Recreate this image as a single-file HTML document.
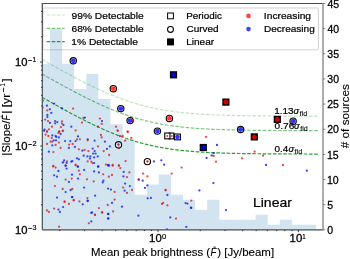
<!DOCTYPE html>
<html><head><meta charset="utf-8"><title>Slope vs mean peak brightness</title>
<style>html,body{margin:0;padding:0;background:#fff;}svg{display:block;will-change:transform;font-family:"Liberation Sans",sans-serif;}</style>
</head><body>
<svg width="350" height="259" viewBox="0 0 350 259"><rect x="0" y="0" width="350" height="259" fill="#fff"/>
<defs><clipPath id="ax"><rect x="42.3" y="3.5" width="280.7" height="226.35"/></clipPath></defs>
<g clip-path="url(#ax)">
<polyline points="28.67,51.67 30.12,52.51 31.57,53.35 33.03,54.19 34.48,55.03 35.93,55.87 37.38,56.70 38.83,57.54 40.28,58.37 41.73,59.20 43.19,60.03 44.64,60.86 46.09,61.68 47.54,62.51 48.99,63.33 50.44,64.15 51.90,64.96 53.35,65.78 54.80,66.59 56.25,67.40 57.70,68.21 59.15,69.01 60.60,69.81 62.06,70.61 63.51,71.41 64.96,72.20 66.41,72.99 67.86,73.77 69.31,74.55 70.76,75.33 72.22,76.11 73.67,76.88 75.12,77.64 76.57,78.40 78.02,79.16 79.47,79.91 80.93,80.66 82.38,81.40 83.83,82.14 85.28,82.87 86.73,83.59 88.18,84.31 89.63,85.03 91.09,85.73 92.54,86.44 93.99,87.13 95.44,87.82 96.89,88.50 98.34,89.18 99.80,89.84 101.25,90.50 102.70,91.15 104.15,91.80 105.60,92.43 107.05,93.06 108.50,93.68 109.96,94.29 111.41,94.90 112.86,95.49 114.31,96.07 115.76,96.65 117.21,97.22 118.66,97.77 120.12,98.32 121.57,98.86 123.02,99.39 124.47,99.90 125.92,100.41 127.37,100.91 128.83,101.40 130.28,101.87 131.73,102.34 133.18,102.80 134.63,103.24 136.08,103.68 137.53,104.11 138.99,104.52 140.44,104.93 141.89,105.32 143.34,105.71 144.79,106.08 146.24,106.45 147.70,106.80 149.15,107.15 150.60,107.48 152.05,107.81 153.50,108.12 154.95,108.43 156.40,108.72 157.86,109.01 159.31,109.29 160.76,109.56 162.21,109.82 163.66,110.07 165.11,110.31 166.56,110.55 168.02,110.78 169.47,111.00 170.92,111.21 172.37,111.41 173.82,111.61 175.27,111.80 176.73,111.98 178.18,112.16 179.63,112.33 181.08,112.49 182.53,112.65 183.98,112.80 185.43,112.94 186.89,113.08 188.34,113.22 189.79,113.34 191.24,113.47 192.69,113.59 194.14,113.70 195.60,113.81 197.05,113.91 198.50,114.01 199.95,114.11 201.40,114.20 202.85,114.29 204.30,114.37 205.76,114.45 207.21,114.53 208.66,114.61 210.11,114.68 211.56,114.75 213.01,114.81 214.46,114.87 215.92,114.93 217.37,114.99 218.82,115.04 220.27,115.10 221.72,115.15 223.17,115.19 224.63,115.24 226.08,115.28 227.53,115.32 228.98,115.36 230.43,115.40 231.88,115.44 233.33,115.47 234.79,115.51 236.24,115.54 237.69,115.57 239.14,115.60 240.59,115.62 242.04,115.65 243.49,115.68 244.95,115.70 246.40,115.72 247.85,115.75 249.30,115.77 250.75,115.79 252.20,115.81 253.66,115.82 255.11,115.84 256.56,115.86 258.01,115.87 259.46,115.89 260.91,115.90 262.36,115.92 263.82,115.93 265.27,115.94 266.72,115.95 268.17,115.97 269.62,115.98 271.07,115.99 272.53,116.00 273.98,116.01 275.43,116.01 276.88,116.02 278.33,116.03 279.78,116.04 281.23,116.05 282.69,116.05 284.14,116.06 285.59,116.07 287.04,116.07 288.49,116.08 289.94,116.08 291.39,116.09 292.85,116.10 294.30,116.10 295.75,116.10 297.20,116.11 298.65,116.11 300.10,116.12 301.56,116.12 303.01,116.12 304.46,116.13 305.91,116.13 307.36,116.13 308.81,116.14 310.26,116.14 311.72,116.14 313.17,116.15 314.62,116.15 316.07,116.15 317.52,116.15 318.97,116.16" fill="none" stroke="#c0e3c0" stroke-width="1.2" stroke-dasharray="3.6 1.55"/>
<polyline points="28.67,66.14 30.12,66.98 31.57,67.82 33.03,68.66 34.48,69.50 35.93,70.34 37.38,71.18 38.83,72.01 40.28,72.84 41.73,73.67 43.19,74.50 44.64,75.33 46.09,76.15 47.54,76.98 48.99,77.80 50.44,78.62 51.90,79.44 53.35,80.25 54.80,81.06 56.25,81.87 57.70,82.68 59.15,83.48 60.60,84.28 62.06,85.08 63.51,85.88 64.96,86.67 66.41,87.46 67.86,88.24 69.31,89.02 70.76,89.80 72.22,90.58 73.67,91.35 75.12,92.11 76.57,92.87 78.02,93.63 79.47,94.38 80.93,95.13 82.38,95.87 83.83,96.61 85.28,97.34 86.73,98.06 88.18,98.78 89.63,99.50 91.09,100.20 92.54,100.91 93.99,101.60 95.44,102.29 96.89,102.97 98.34,103.65 99.80,104.31 101.25,104.97 102.70,105.62 104.15,106.27 105.60,106.91 107.05,107.53 108.50,108.15 109.96,108.76 111.41,109.37 112.86,109.96 114.31,110.55 115.76,111.12 117.21,111.69 118.66,112.24 120.12,112.79 121.57,113.33 123.02,113.86 124.47,114.37 125.92,114.88 127.37,115.38 128.83,115.87 130.28,116.34 131.73,116.81 133.18,117.27 134.63,117.72 136.08,118.15 137.53,118.58 138.99,118.99 140.44,119.40 141.89,119.79 143.34,120.18 144.79,120.55 146.24,120.92 147.70,121.27 149.15,121.62 150.60,121.95 152.05,122.28 153.50,122.59 154.95,122.90 156.40,123.19 157.86,123.48 159.31,123.76 160.76,124.03 162.21,124.29 163.66,124.54 165.11,124.79 166.56,125.02 168.02,125.25 169.47,125.47 170.92,125.68 172.37,125.88 173.82,126.08 175.27,126.27 176.73,126.45 178.18,126.63 179.63,126.80 181.08,126.96 182.53,127.12 183.98,127.27 185.43,127.41 186.89,127.55 188.34,127.69 189.79,127.81 191.24,127.94 192.69,128.06 194.14,128.17 195.60,128.28 197.05,128.38 198.50,128.48 199.95,128.58 201.40,128.67 202.85,128.76 204.30,128.84 205.76,128.92 207.21,129.00 208.66,129.08 210.11,129.15 211.56,129.22 213.01,129.28 214.46,129.34 215.92,129.40 217.37,129.46 218.82,129.51 220.27,129.57 221.72,129.62 223.17,129.66 224.63,129.71 226.08,129.75 227.53,129.79 228.98,129.83 230.43,129.87 231.88,129.91 233.33,129.94 234.79,129.98 236.24,130.01 237.69,130.04 239.14,130.07 240.59,130.09 242.04,130.12 243.49,130.15 244.95,130.17 246.40,130.19 247.85,130.22 249.30,130.24 250.75,130.26 252.20,130.28 253.66,130.29 255.11,130.31 256.56,130.33 258.01,130.34 259.46,130.36 260.91,130.37 262.36,130.39 263.82,130.40 265.27,130.41 266.72,130.42 268.17,130.44 269.62,130.45 271.07,130.46 272.53,130.47 273.98,130.48 275.43,130.48 276.88,130.49 278.33,130.50 279.78,130.51 281.23,130.52 282.69,130.52 284.14,130.53 285.59,130.54 287.04,130.54 288.49,130.55 289.94,130.55 291.39,130.56 292.85,130.57 294.30,130.57 295.75,130.57 297.20,130.58 298.65,130.58 300.10,130.59 301.56,130.59 303.01,130.60 304.46,130.60 305.91,130.60 307.36,130.61 308.81,130.61 310.26,130.61 311.72,130.61 313.17,130.62 314.62,130.62 316.07,130.62 317.52,130.62 318.97,130.63" fill="none" stroke="#80c680" stroke-width="1.2" stroke-dasharray="3.6 1.55"/>
<polyline points="28.67,89.56 30.12,90.40 31.57,91.24 33.03,92.08 34.48,92.92 35.93,93.75 37.38,94.59 38.83,95.42 40.28,96.26 41.73,97.09 43.19,97.92 44.64,98.74 46.09,99.57 47.54,100.39 48.99,101.21 50.44,102.03 51.90,102.85 53.35,103.66 54.80,104.48 56.25,105.29 57.70,106.09 59.15,106.90 60.60,107.70 62.06,108.50 63.51,109.29 64.96,110.08 66.41,110.87 67.86,111.66 69.31,112.44 70.76,113.22 72.22,113.99 73.67,114.76 75.12,115.53 76.57,116.29 78.02,117.04 79.47,117.80 80.93,118.54 82.38,119.28 83.83,120.02 85.28,120.75 86.73,121.48 88.18,122.20 89.63,122.91 91.09,123.62 92.54,124.32 93.99,125.02 95.44,125.71 96.89,126.39 98.34,127.06 99.80,127.73 101.25,128.39 102.70,129.04 104.15,129.68 105.60,130.32 107.05,130.95 108.50,131.57 109.96,132.18 111.41,132.78 112.86,133.38 114.31,133.96 115.76,134.54 117.21,135.10 118.66,135.66 120.12,136.21 121.57,136.74 123.02,137.27 124.47,137.79 125.92,138.30 127.37,138.79 128.83,139.28 130.28,139.76 131.73,140.23 133.18,140.68 134.63,141.13 136.08,141.57 137.53,141.99 138.99,142.41 140.44,142.81 141.89,143.21 143.34,143.59 144.79,143.97 146.24,144.33 147.70,144.69 149.15,145.03 150.60,145.37 152.05,145.69 153.50,146.01 154.95,146.31 156.40,146.61 157.86,146.90 159.31,147.18 160.76,147.44 162.21,147.70 163.66,147.96 165.11,148.20 166.56,148.44 168.02,148.66 169.47,148.88 170.92,149.09 172.37,149.30 173.82,149.49 175.27,149.68 176.73,149.87 178.18,150.04 179.63,150.21 181.08,150.38 182.53,150.53 183.98,150.68 185.43,150.83 186.89,150.97 188.34,151.10 189.79,151.23 191.24,151.35 192.69,151.47 194.14,151.58 195.60,151.69 197.05,151.80 198.50,151.90 199.95,151.99 201.40,152.09 202.85,152.17 204.30,152.26 205.76,152.34 207.21,152.42 208.66,152.49 210.11,152.56 211.56,152.63 213.01,152.70 214.46,152.76 215.92,152.82 217.37,152.87 218.82,152.93 220.27,152.98 221.72,153.03 223.17,153.08 224.63,153.12 226.08,153.17 227.53,153.21 228.98,153.25 230.43,153.29 231.88,153.32 233.33,153.36 234.79,153.39 236.24,153.42 237.69,153.45 239.14,153.48 240.59,153.51 242.04,153.54 243.49,153.56 244.95,153.59 246.40,153.61 247.85,153.63 249.30,153.65 250.75,153.67 252.20,153.69 253.66,153.71 255.11,153.73 256.56,153.74 258.01,153.76 259.46,153.77 260.91,153.79 262.36,153.80 263.82,153.81 265.27,153.83 266.72,153.84 268.17,153.85 269.62,153.86 271.07,153.87 272.53,153.88 273.98,153.89 275.43,153.90 276.88,153.91 278.33,153.92 279.78,153.92 281.23,153.93 282.69,153.94 284.14,153.95 285.59,153.95 287.04,153.96 288.49,153.96 289.94,153.97 291.39,153.98 292.85,153.98 294.30,153.99 295.75,153.99 297.20,153.99 298.65,154.00 300.10,154.00 301.56,154.01 303.01,154.01 304.46,154.01 305.91,154.02 307.36,154.02 308.81,154.02 310.26,154.03 311.72,154.03 313.17,154.03 314.62,154.03 316.07,154.04 317.52,154.04 318.97,154.04" fill="none" stroke="#2ca02c" stroke-width="1.2" stroke-dasharray="3.6 1.55"/>
<circle cx="47.4" cy="117.1" r="1.15" fill="#0000ff" fill-opacity="0.74"/>
<circle cx="164.1" cy="164.7" r="1.15" fill="#0000ff" fill-opacity="0.74"/>
<circle cx="165.6" cy="190" r="1.15" fill="#ff0000" fill-opacity="0.74"/>
<circle cx="176" cy="218.6" r="1.15" fill="#ff0000" fill-opacity="0.74"/>
<circle cx="42.7" cy="107.6" r="1.15" fill="#ff0000" fill-opacity="0.74"/>
<circle cx="165.6" cy="190.3" r="1.15" fill="#ff0000" fill-opacity="0.74"/>
<circle cx="254.6" cy="151.7" r="1.15" fill="#ff0000" fill-opacity="0.74"/>
<circle cx="122.7" cy="136" r="1.15" fill="#ff0000" fill-opacity="0.74"/>
<circle cx="109.1" cy="155" r="1.15" fill="#ff0000" fill-opacity="0.74"/>
<circle cx="54.1" cy="208.6" r="1.15" fill="#ff0000" fill-opacity="0.74"/>
<circle cx="47" cy="144" r="1.15" fill="#ff0000" fill-opacity="0.74"/>
<circle cx="94.1" cy="163.1" r="1.15" fill="#0000ff" fill-opacity="0.74"/>
<circle cx="108" cy="188.6" r="1.15" fill="#0000ff" fill-opacity="0.74"/>
<circle cx="57" cy="176.7" r="1.15" fill="#0000ff" fill-opacity="0.74"/>
<circle cx="84.1" cy="187.6" r="1.15" fill="#0000ff" fill-opacity="0.74"/>
<circle cx="98" cy="166.7" r="1.15" fill="#0000ff" fill-opacity="0.74"/>
<circle cx="181.7" cy="167.6" r="1.15" fill="#ff0000" fill-opacity="0.74"/>
<circle cx="52" cy="126.7" r="1.15" fill="#ff0000" fill-opacity="0.74"/>
<circle cx="127.7" cy="132.1" r="1.15" fill="#ff0000" fill-opacity="0.74"/>
<circle cx="72.3" cy="161.1" r="1.15" fill="#0000ff" fill-opacity="0.74"/>
<circle cx="92.7" cy="148.6" r="1.15" fill="#0000ff" fill-opacity="0.74"/>
<circle cx="118.9" cy="147.9" r="1.15" fill="#ff0000" fill-opacity="0.74"/>
<circle cx="64.1" cy="160.3" r="1.15" fill="#0000ff" fill-opacity="0.74"/>
<circle cx="59.1" cy="226.7" r="1.15" fill="#ff0000" fill-opacity="0.74"/>
<circle cx="58.4" cy="209.6" r="1.15" fill="#0000ff" fill-opacity="0.74"/>
<circle cx="65.1" cy="141.1" r="1.15" fill="#0000ff" fill-opacity="0.74"/>
<circle cx="98" cy="126.7" r="1.15" fill="#ff0000" fill-opacity="0.74"/>
<circle cx="69.1" cy="144.6" r="1.15" fill="#ff0000" fill-opacity="0.74"/>
<circle cx="77.7" cy="166.4" r="1.15" fill="#0000ff" fill-opacity="0.74"/>
<circle cx="48.4" cy="136" r="1.15" fill="#ff0000" fill-opacity="0.74"/>
<circle cx="213.7" cy="156" r="1.15" fill="#ff0000" fill-opacity="0.74"/>
<circle cx="63.1" cy="130.7" r="1.15" fill="#ff0000" fill-opacity="0.74"/>
<circle cx="163.1" cy="202.9" r="1.15" fill="#ff0000" fill-opacity="0.74"/>
<circle cx="87.7" cy="200.7" r="1.15" fill="#0000ff" fill-opacity="0.74"/>
<circle cx="49.9" cy="122.9" r="1.15" fill="#0000ff" fill-opacity="0.74"/>
<circle cx="131.3" cy="137.9" r="1.15" fill="#ff0000" fill-opacity="0.74"/>
<circle cx="112.7" cy="165.7" r="1.15" fill="#ff0000" fill-opacity="0.74"/>
<circle cx="53.4" cy="152.1" r="1.15" fill="#ff0000" fill-opacity="0.74"/>
<circle cx="92.7" cy="163.1" r="1.15" fill="#ff0000" fill-opacity="0.74"/>
<circle cx="83.7" cy="155.7" r="1.15" fill="#0000ff" fill-opacity="0.74"/>
<circle cx="71.3" cy="161.7" r="1.15" fill="#0000ff" fill-opacity="0.74"/>
<circle cx="54.1" cy="103.6" r="1.15" fill="#0000ff" fill-opacity="0.74"/>
<circle cx="52.3" cy="141.7" r="1.15" fill="#ff0000" fill-opacity="0.74"/>
<circle cx="44.6" cy="129.6" r="1.15" fill="#0000ff" fill-opacity="0.74"/>
<circle cx="127" cy="192.9" r="1.15" fill="#ff0000" fill-opacity="0.74"/>
<circle cx="127.7" cy="131.4" r="1.15" fill="#ff0000" fill-opacity="0.74"/>
<circle cx="216" cy="161.7" r="1.15" fill="#ff0000" fill-opacity="0.74"/>
<circle cx="57.3" cy="122.1" r="1.15" fill="#0000ff" fill-opacity="0.74"/>
<circle cx="91.3" cy="161.7" r="1.15" fill="#ff0000" fill-opacity="0.74"/>
<circle cx="266" cy="165" r="1.15" fill="#0000ff" fill-opacity="0.74"/>
<circle cx="87.7" cy="140.3" r="1.15" fill="#ff0000" fill-opacity="0.74"/>
<circle cx="211.7" cy="155.4" r="1.15" fill="#0000ff" fill-opacity="0.74"/>
<circle cx="55.1" cy="123.3" r="1.15" fill="#0000ff" fill-opacity="0.74"/>
<circle cx="74.9" cy="146.9" r="1.15" fill="#0000ff" fill-opacity="0.74"/>
<circle cx="94.1" cy="157.4" r="1.15" fill="#0000ff" fill-opacity="0.74"/>
<circle cx="117.7" cy="130.7" r="1.15" fill="#ff0000" fill-opacity="0.74"/>
<circle cx="47" cy="131.4" r="1.15" fill="#ff0000" fill-opacity="0.74"/>
<circle cx="103.1" cy="174.3" r="1.15" fill="#ff0000" fill-opacity="0.74"/>
<circle cx="117.7" cy="130.7" r="1.15" fill="#ff0000" fill-opacity="0.74"/>
<circle cx="95.6" cy="153.6" r="1.15" fill="#0000ff" fill-opacity="0.74"/>
<circle cx="59" cy="131.4" r="1.15" fill="#ff0000" fill-opacity="0.74"/>
<circle cx="72.3" cy="189" r="1.15" fill="#ff0000" fill-opacity="0.74"/>
<circle cx="62" cy="108.3" r="1.15" fill="#0000ff" fill-opacity="0.74"/>
<circle cx="97.7" cy="156.4" r="1.15" fill="#0000ff" fill-opacity="0.74"/>
<circle cx="108" cy="218.4" r="1.15" fill="#0000ff" fill-opacity="0.74"/>
<circle cx="110.9" cy="189.6" r="1.15" fill="#0000ff" fill-opacity="0.74"/>
<circle cx="242" cy="158.3" r="1.15" fill="#ff0000" fill-opacity="0.74"/>
<circle cx="98.9" cy="208.1" r="1.15" fill="#ff0000" fill-opacity="0.74"/>
<circle cx="58.4" cy="171" r="1.15" fill="#0000ff" fill-opacity="0.74"/>
<circle cx="127" cy="177.1" r="1.15" fill="#ff0000" fill-opacity="0.74"/>
<circle cx="186.3" cy="226.9" r="1.15" fill="#0000ff" fill-opacity="0.74"/>
<circle cx="47" cy="131.7" r="1.15" fill="#ff0000" fill-opacity="0.74"/>
<circle cx="63.4" cy="162.1" r="1.15" fill="#ff0000" fill-opacity="0.74"/>
<circle cx="129.9" cy="186.1" r="1.15" fill="#0000ff" fill-opacity="0.74"/>
<circle cx="213.4" cy="183.1" r="1.15" fill="#0000ff" fill-opacity="0.74"/>
<circle cx="66.6" cy="168.6" r="1.15" fill="#0000ff" fill-opacity="0.74"/>
<circle cx="125.1" cy="140.7" r="1.15" fill="#ff0000" fill-opacity="0.74"/>
<circle cx="58.4" cy="132.9" r="1.15" fill="#ff0000" fill-opacity="0.74"/>
<circle cx="75.6" cy="164.6" r="1.15" fill="#ff0000" fill-opacity="0.74"/>
<circle cx="138.9" cy="179.7" r="1.15" fill="#0000ff" fill-opacity="0.74"/>
<circle cx="57" cy="197.6" r="1.15" fill="#0000ff" fill-opacity="0.74"/>
<circle cx="150.9" cy="197.9" r="1.15" fill="#0000ff" fill-opacity="0.74"/>
<circle cx="125.1" cy="183.6" r="1.15" fill="#0000ff" fill-opacity="0.74"/>
<circle cx="103.7" cy="151.1" r="1.15" fill="#ff0000" fill-opacity="0.74"/>
<circle cx="95" cy="215" r="1.15" fill="#ff0000" fill-opacity="0.74"/>
<circle cx="78" cy="166.7" r="1.15" fill="#0000ff" fill-opacity="0.74"/>
<circle cx="87.7" cy="139.3" r="1.15" fill="#0000ff" fill-opacity="0.74"/>
<circle cx="47" cy="105.7" r="1.15" fill="#0000ff" fill-opacity="0.74"/>
<circle cx="67" cy="161.4" r="1.15" fill="#ff0000" fill-opacity="0.74"/>
<circle cx="109.1" cy="165.4" r="1.15" fill="#0000ff" fill-opacity="0.74"/>
<circle cx="84.6" cy="150" r="1.15" fill="#ff0000" fill-opacity="0.74"/>
<circle cx="112" cy="175" r="1.15" fill="#ff0000" fill-opacity="0.74"/>
<circle cx="102.3" cy="212.4" r="1.15" fill="#ff0000" fill-opacity="0.74"/>
<circle cx="109.9" cy="146.4" r="1.15" fill="#0000ff" fill-opacity="0.74"/>
<circle cx="48.9" cy="151.7" r="1.15" fill="#0000ff" fill-opacity="0.74"/>
<circle cx="147.7" cy="198.3" r="1.15" fill="#0000ff" fill-opacity="0.74"/>
<circle cx="75.6" cy="141.1" r="1.15" fill="#0000ff" fill-opacity="0.74"/>
<circle cx="78.9" cy="170.7" r="1.15" fill="#ff0000" fill-opacity="0.74"/>
<circle cx="87.7" cy="161.4" r="1.15" fill="#ff0000" fill-opacity="0.74"/>
<circle cx="45.1" cy="119.6" r="1.15" fill="#ff0000" fill-opacity="0.74"/>
<circle cx="91.3" cy="212.9" r="1.15" fill="#0000ff" fill-opacity="0.74"/>
<circle cx="103.4" cy="180.7" r="1.15" fill="#0000ff" fill-opacity="0.74"/>
<circle cx="100.9" cy="135" r="1.15" fill="#ff0000" fill-opacity="0.74"/>
<circle cx="114.6" cy="191.9" r="1.15" fill="#ff0000" fill-opacity="0.74"/>
<circle cx="89.9" cy="158.6" r="1.15" fill="#0000ff" fill-opacity="0.74"/>
<circle cx="88.4" cy="151.1" r="1.15" fill="#ff0000" fill-opacity="0.74"/>
<circle cx="171.7" cy="173.6" r="1.15" fill="#ff0000" fill-opacity="0.74"/>
<circle cx="54.1" cy="175.3" r="1.15" fill="#0000ff" fill-opacity="0.74"/>
<circle cx="72" cy="174.7" r="1.15" fill="#0000ff" fill-opacity="0.74"/>
<circle cx="306.9" cy="170.7" r="1.15" fill="#0000ff" fill-opacity="0.74"/>
<circle cx="113.1" cy="211.4" r="1.15" fill="#ff0000" fill-opacity="0.74"/>
<circle cx="87.4" cy="156.4" r="1.15" fill="#0000ff" fill-opacity="0.74"/>
<circle cx="52.3" cy="145.4" r="1.15" fill="#0000ff" fill-opacity="0.74"/>
<circle cx="118.9" cy="165.7" r="1.15" fill="#ff0000" fill-opacity="0.74"/>
<circle cx="199.4" cy="190.4" r="1.15" fill="#0000ff" fill-opacity="0.74"/>
<circle cx="71.7" cy="178.6" r="1.15" fill="#ff0000" fill-opacity="0.74"/>
<circle cx="78" cy="178.6" r="1.15" fill="#0000ff" fill-opacity="0.74"/>
<circle cx="70.6" cy="190" r="1.15" fill="#0000ff" fill-opacity="0.74"/>
<circle cx="125.6" cy="161.1" r="1.15" fill="#ff0000" fill-opacity="0.74"/>
<circle cx="114.6" cy="199.6" r="1.15" fill="#ff0000" fill-opacity="0.74"/>
<circle cx="66.6" cy="163.1" r="1.15" fill="#0000ff" fill-opacity="0.74"/>
<circle cx="75.6" cy="130.4" r="1.15" fill="#ff0000" fill-opacity="0.74"/>
<circle cx="56.3" cy="136.9" r="1.15" fill="#0000ff" fill-opacity="0.74"/>
<circle cx="79.4" cy="201.4" r="1.15" fill="#ff0000" fill-opacity="0.74"/>
<circle cx="55.6" cy="167.6" r="1.15" fill="#ff0000" fill-opacity="0.74"/>
<circle cx="48.9" cy="211.9" r="1.15" fill="#ff0000" fill-opacity="0.74"/>
<circle cx="87" cy="179.3" r="1.15" fill="#ff0000" fill-opacity="0.74"/>
<circle cx="144.9" cy="187.9" r="1.15" fill="#0000ff" fill-opacity="0.74"/>
<circle cx="94.9" cy="214.7" r="1.15" fill="#ff0000" fill-opacity="0.74"/>
<circle cx="283" cy="165" r="1.15" fill="#ff0000" fill-opacity="0.74"/>
<circle cx="53.7" cy="140.3" r="1.15" fill="#0000ff" fill-opacity="0.74"/>
<circle cx="60.6" cy="147.9" r="1.15" fill="#ff0000" fill-opacity="0.74"/>
<circle cx="120.3" cy="168.1" r="1.15" fill="#ff0000" fill-opacity="0.74"/>
<circle cx="65.6" cy="179.6" r="1.15" fill="#ff0000" fill-opacity="0.74"/>
<circle cx="108" cy="165" r="1.15" fill="#0000ff" fill-opacity="0.74"/>
<circle cx="82.7" cy="204.3" r="1.15" fill="#0000ff" fill-opacity="0.74"/>
<circle cx="77" cy="139.3" r="1.15" fill="#ff0000" fill-opacity="0.74"/>
<circle cx="112.7" cy="165" r="1.15" fill="#ff0000" fill-opacity="0.74"/>
<circle cx="147.4" cy="161.4" r="1.15" fill="#ff0000" fill-opacity="0.74"/>
<circle cx="153.9" cy="161.4" r="1.15" fill="#0000ff" fill-opacity="0.74"/>
<circle cx="53.4" cy="166" r="1.15" fill="#ff0000" fill-opacity="0.74"/>
<circle cx="73.1" cy="108.6" r="1.15" fill="#ff0000" fill-opacity="0.74"/>
<circle cx="51.3" cy="112.9" r="1.15" fill="#0000ff" fill-opacity="0.74"/>
<circle cx="50.6" cy="141.7" r="1.15" fill="#ff0000" fill-opacity="0.74"/>
<circle cx="116" cy="126.7" r="1.15" fill="#ff0000" fill-opacity="0.74"/>
<circle cx="47.3" cy="110.4" r="1.15" fill="#ff0000" fill-opacity="0.74"/>
<circle cx="79.9" cy="174.3" r="1.15" fill="#ff0000" fill-opacity="0.74"/>
<circle cx="65.6" cy="192.1" r="1.15" fill="#0000ff" fill-opacity="0.74"/>
<circle cx="118.4" cy="144.6" r="1.15" fill="#ff0000" fill-opacity="0.74"/>
<circle cx="167.4" cy="195" r="1.15" fill="#0000ff" fill-opacity="0.74"/>
<circle cx="213.7" cy="153.1" r="1.15" fill="#0000ff" fill-opacity="0.74"/>
<circle cx="55.1" cy="121.1" r="1.15" fill="#0000ff" fill-opacity="0.74"/>
<circle cx="62.7" cy="189" r="1.15" fill="#ff0000" fill-opacity="0.74"/>
<circle cx="44.1" cy="130.7" r="1.15" fill="#0000ff" fill-opacity="0.74"/>
<circle cx="108.9" cy="176.7" r="1.15" fill="#ff0000" fill-opacity="0.74"/>
<circle cx="56" cy="140.3" r="1.15" fill="#0000ff" fill-opacity="0.74"/>
<circle cx="58.9" cy="137.4" r="1.15" fill="#0000ff" fill-opacity="0.74"/>
<circle cx="48.9" cy="129.3" r="1.15" fill="#ff0000" fill-opacity="0.74"/>
<circle cx="55.6" cy="145" r="1.15" fill="#ff0000" fill-opacity="0.74"/>
<circle cx="73.7" cy="200.4" r="1.15" fill="#ff0000" fill-opacity="0.74"/>
<circle cx="95.1" cy="195.7" r="1.15" fill="#0000ff" fill-opacity="0.74"/>
<circle cx="53.1" cy="166.4" r="1.15" fill="#ff0000" fill-opacity="0.74"/>
<circle cx="62" cy="121.4" r="1.15" fill="#ff0000" fill-opacity="0.74"/>
<circle cx="185.6" cy="203.1" r="1.15" fill="#0000ff" fill-opacity="0.74"/>
<circle cx="64.6" cy="202.1" r="1.15" fill="#ff0000" fill-opacity="0.74"/>
<circle cx="101.7" cy="123.9" r="1.15" fill="#ff0000" fill-opacity="0.74"/>
<circle cx="87.4" cy="198.1" r="1.15" fill="#ff0000" fill-opacity="0.74"/>
<circle cx="133.1" cy="121" r="1.15" fill="#ff0000" fill-opacity="0.74"/>
<circle cx="90.3" cy="156.4" r="1.15" fill="#0000ff" fill-opacity="0.74"/>
<circle cx="190.9" cy="207.7" r="1.15" fill="#0000ff" fill-opacity="0.74"/>
<circle cx="191.3" cy="200.7" r="1.15" fill="#ff0000" fill-opacity="0.74"/>
<circle cx="91.3" cy="221.4" r="1.15" fill="#0000ff" fill-opacity="0.74"/>
<circle cx="58.9" cy="142.6" r="1.15" fill="#ff0000" fill-opacity="0.74"/>
<circle cx="147.4" cy="176.4" r="1.15" fill="#ff0000" fill-opacity="0.74"/>
<circle cx="124.6" cy="190.7" r="1.15" fill="#0000ff" fill-opacity="0.74"/>
<circle cx="94.6" cy="140.7" r="1.15" fill="#0000ff" fill-opacity="0.74"/>
<circle cx="187.4" cy="203.6" r="1.15" fill="#0000ff" fill-opacity="0.74"/>
<circle cx="101.7" cy="137.4" r="1.15" fill="#ff0000" fill-opacity="0.74"/>
<circle cx="82.3" cy="150.7" r="1.15" fill="#0000ff" fill-opacity="0.74"/>
<circle cx="51.7" cy="137.9" r="1.15" fill="#ff0000" fill-opacity="0.74"/>
<circle cx="63.4" cy="125" r="1.15" fill="#0000ff" fill-opacity="0.74"/>
<circle cx="94.1" cy="171.4" r="1.15" fill="#0000ff" fill-opacity="0.74"/>
<circle cx="47.4" cy="115" r="1.15" fill="#0000ff" fill-opacity="0.74"/>
<circle cx="54.9" cy="186.1" r="1.15" fill="#ff0000" fill-opacity="0.74"/>
<circle cx="98.9" cy="172.4" r="1.15" fill="#0000ff" fill-opacity="0.74"/>
<circle cx="78.9" cy="149.3" r="1.15" fill="#ff0000" fill-opacity="0.74"/>
<circle cx="65.6" cy="165.7" r="1.15" fill="#0000ff" fill-opacity="0.74"/>
<circle cx="122" cy="206.7" r="1.15" fill="#0000ff" fill-opacity="0.74"/>
<circle cx="60.6" cy="134" r="1.15" fill="#0000ff" fill-opacity="0.74"/>
<circle cx="143.1" cy="173.6" r="1.15" fill="#ff0000" fill-opacity="0.74"/>
<circle cx="72.3" cy="197.1" r="1.15" fill="#0000ff" fill-opacity="0.74"/>
<circle cx="62.7" cy="162.6" r="1.15" fill="#0000ff" fill-opacity="0.74"/>
<circle cx="73.7" cy="200" r="1.15" fill="#ff0000" fill-opacity="0.74"/>
<circle cx="191.3" cy="207.9" r="1.15" fill="#0000ff" fill-opacity="0.74"/>
<circle cx="161.3" cy="160.3" r="1.15" fill="#0000ff" fill-opacity="0.74"/>
<circle cx="138.4" cy="179.3" r="1.15" fill="#ff0000" fill-opacity="0.74"/>
<circle cx="102" cy="121.1" r="1.15" fill="#0000ff" fill-opacity="0.74"/>
<circle cx="49.9" cy="109.3" r="1.15" fill="#0000ff" fill-opacity="0.74"/>
<circle cx="64.6" cy="201.4" r="1.15" fill="#ff0000" fill-opacity="0.74"/>
<circle cx="71.3" cy="126.7" r="1.15" fill="#0000ff" fill-opacity="0.74"/>
<circle cx="206.6" cy="157.9" r="1.15" fill="#0000ff" fill-opacity="0.74"/>
<circle cx="263.1" cy="155.7" r="1.15" fill="#ff0000" fill-opacity="0.74"/>
<circle cx="68.9" cy="203.9" r="1.15" fill="#ff0000" fill-opacity="0.74"/>
<circle cx="63.1" cy="207.1" r="1.15" fill="#0000ff" fill-opacity="0.74"/>
<circle cx="70.3" cy="141.1" r="1.15" fill="#0000ff" fill-opacity="0.74"/>
<circle cx="87.7" cy="201" r="1.15" fill="#0000ff" fill-opacity="0.74"/>
<circle cx="88.9" cy="223.3" r="1.15" fill="#ff0000" fill-opacity="0.74"/>
<circle cx="78.9" cy="159.3" r="1.15" fill="#0000ff" fill-opacity="0.74"/>
<circle cx="92" cy="212.4" r="1.15" fill="#0000ff" fill-opacity="0.74"/>
<circle cx="119.9" cy="136" r="1.15" fill="#ff0000" fill-opacity="0.74"/>
<circle cx="206.1" cy="136.9" r="1.15" fill="#ff0000" fill-opacity="0.74"/>
<circle cx="72" cy="197.1" r="1.15" fill="#0000ff" fill-opacity="0.74"/>
<circle cx="83.4" cy="117.9" r="1.15" fill="#ff0000" fill-opacity="0.74"/>
<circle cx="45.6" cy="134.6" r="1.15" fill="#ff0000" fill-opacity="0.74"/>
<circle cx="129.4" cy="172.4" r="1.15" fill="#ff0000" fill-opacity="0.74"/>
<circle cx="62.7" cy="131.1" r="1.15" fill="#ff0000" fill-opacity="0.74"/>
<circle cx="107.7" cy="205" r="1.15" fill="#ff0000" fill-opacity="0.74"/>
<circle cx="84.9" cy="117.6" r="1.15" fill="#0000ff" fill-opacity="0.74"/>
<circle cx="84.1" cy="170" r="1.15" fill="#0000ff" fill-opacity="0.74"/>
<circle cx="93.1" cy="153.6" r="1.15" fill="#0000ff" fill-opacity="0.74"/>
<circle cx="217" cy="145" r="1.15" fill="#0000ff" fill-opacity="0.74"/>
<circle cx="47" cy="210.4" r="1.15" fill="#ff0000" fill-opacity="0.74"/>
<circle cx="65.6" cy="165.7" r="1.15" fill="#0000ff" fill-opacity="0.74"/>
<circle cx="104.9" cy="141.7" r="1.15" fill="#0000ff" fill-opacity="0.74"/>
<circle cx="138.4" cy="215.7" r="1.15" fill="#0000ff" fill-opacity="0.74"/>
<circle cx="102.7" cy="182.4" r="1.15" fill="#0000ff" fill-opacity="0.74"/>
<circle cx="94.6" cy="151.1" r="1.15" fill="#0000ff" fill-opacity="0.74"/>
<circle cx="55.6" cy="136" r="1.15" fill="#0000ff" fill-opacity="0.74"/>
<circle cx="167" cy="229.4" r="1.15" fill="#0000ff" fill-opacity="0.74"/>
<circle cx="118.9" cy="165.4" r="1.15" fill="#ff0000" fill-opacity="0.74"/>
<circle cx="123.7" cy="171.9" r="1.15" fill="#0000ff" fill-opacity="0.74"/>
<circle cx="68.9" cy="181.9" r="1.15" fill="#0000ff" fill-opacity="0.74"/>
<circle cx="60.9" cy="127.1" r="1.15" fill="#ff0000" fill-opacity="0.74"/>
<circle cx="147.4" cy="185.4" r="1.15" fill="#0000ff" fill-opacity="0.74"/>
<circle cx="75.6" cy="165.3" r="1.15" fill="#ff0000" fill-opacity="0.74"/>
<circle cx="82" cy="122.6" r="1.15" fill="#ff0000" fill-opacity="0.74"/>
<circle cx="52.3" cy="135.4" r="1.15" fill="#0000ff" fill-opacity="0.74"/>
<circle cx="98.4" cy="166.4" r="1.15" fill="#0000ff" fill-opacity="0.74"/>
<circle cx="79.9" cy="139.3" r="1.15" fill="#ff0000" fill-opacity="0.74"/>
<circle cx="99.9" cy="118.6" r="1.15" fill="#ff0000" fill-opacity="0.74"/>
<circle cx="142.7" cy="180.7" r="1.15" fill="#0000ff" fill-opacity="0.74"/>
<circle cx="77" cy="158.3" r="1.15" fill="#0000ff" fill-opacity="0.74"/>
<circle cx="48" cy="121.1" r="1.15" fill="#ff0000" fill-opacity="0.74"/>
<circle cx="108" cy="214" r="1.15" fill="#0000ff" fill-opacity="0.74"/>
<circle cx="123.1" cy="187.6" r="1.15" fill="#ff0000" fill-opacity="0.74"/>
<circle cx="42.7" cy="100.7" r="1.15" fill="#0000ff" fill-opacity="0.74"/>
<circle cx="59.9" cy="211.9" r="1.15" fill="#0000ff" fill-opacity="0.74"/>
<circle cx="123.4" cy="176.4" r="1.15" fill="#0000ff" fill-opacity="0.74"/>
<circle cx="170.3" cy="217.4" r="1.15" fill="#0000ff" fill-opacity="0.74"/>
<circle cx="78" cy="136.4" r="1.15" fill="#0000ff" fill-opacity="0.74"/>
<circle cx="98" cy="146.4" r="1.15" fill="#ff0000" fill-opacity="0.74"/>
<circle cx="72.7" cy="144" r="1.15" fill="#ff0000" fill-opacity="0.74"/>
<circle cx="108.4" cy="165.7" r="1.15" fill="#0000ff" fill-opacity="0.74"/>
<circle cx="68.9" cy="147.9" r="1.15" fill="#0000ff" fill-opacity="0.74"/>
<circle cx="132" cy="190" r="1.15" fill="#ff0000" fill-opacity="0.74"/>
<circle cx="108.4" cy="218.6" r="1.15" fill="#0000ff" fill-opacity="0.74"/>
<circle cx="226" cy="210.1" r="1.15" fill="#0000ff" fill-opacity="0.74"/>
<circle cx="93.7" cy="181.4" r="1.15" fill="#ff0000" fill-opacity="0.74"/>
<circle cx="162" cy="204" r="1.15" fill="#ff0000" fill-opacity="0.74"/>
<circle cx="102" cy="212.4" r="1.15" fill="#ff0000" fill-opacity="0.74"/>
<circle cx="112" cy="202.9" r="1.15" fill="#0000ff" fill-opacity="0.74"/>
<circle cx="62" cy="123.6" r="1.15" fill="#ff0000" fill-opacity="0.74"/>
<circle cx="59.4" cy="131.7" r="1.15" fill="#ff0000" fill-opacity="0.74"/>
<circle cx="108.4" cy="213.9" r="1.15" fill="#0000ff" fill-opacity="0.74"/>
<circle cx="107" cy="148.9" r="1.15" fill="#0000ff" fill-opacity="0.74"/>
<circle cx="106" cy="164.6" r="1.15" fill="#ff0000" fill-opacity="0.74"/>
<circle cx="167.4" cy="205.4" r="1.15" fill="#ff0000" fill-opacity="0.74"/>
<g font-family='"Liberation Sans", sans-serif'>
<text x="274.24" y="114.10" font-size="9.8" fill="#000" stroke="#000" stroke-width="0.22" textLength="19.40" lengthAdjust="spacingAndGlyphs">1.13</text>
<text x="293.49" y="114.10" font-size="9.5" font-style="italic" fill="#000" stroke="#000" stroke-width="0.22" textLength="5.62" lengthAdjust="spacingAndGlyphs">σ</text>
<text x="299.70" y="115.70" font-size="6.6" fill="#000" stroke="#000" stroke-width="0.08" textLength="7.56" lengthAdjust="spacingAndGlyphs">fid</text>
<text x="274.61" y="129.00" font-size="9.8" fill="#000" stroke="#000" stroke-width="0.22" textLength="19.64" lengthAdjust="spacingAndGlyphs">0.76</text>
<text x="294.09" y="129.00" font-size="9.5" font-style="italic" fill="#000" stroke="#000" stroke-width="0.22" textLength="5.62" lengthAdjust="spacingAndGlyphs">σ</text>
<text x="300.30" y="130.60" font-size="6.6" fill="#000" stroke="#000" stroke-width="0.08" textLength="7.56" lengthAdjust="spacingAndGlyphs">fid</text>
<text x="274.61" y="152.10" font-size="9.8" fill="#000" stroke="#000" stroke-width="0.22" textLength="13.78" lengthAdjust="spacingAndGlyphs">0.4</text>
<text x="288.39" y="152.10" font-size="9.5" font-style="italic" fill="#000" stroke="#000" stroke-width="0.22" textLength="5.62" lengthAdjust="spacingAndGlyphs">σ</text>
<text x="294.60" y="153.70" font-size="6.6" fill="#000" stroke="#000" stroke-width="0.08" textLength="7.56" lengthAdjust="spacingAndGlyphs">fid</text>
<text x="252.95" y="207.40" font-size="13.6" fill="#000" stroke="#000" stroke-width="0.22" textLength="38.98" lengthAdjust="spacingAndGlyphs">Linear</text>
</g>
<circle cx="73.25" cy="60.8" r="3.15" fill="none" stroke="#000" stroke-width="1.15"/>
<circle cx="73.25" cy="60.8" r="2.4" fill="#0000ff" fill-opacity="0.8"/>
<circle cx="113.3" cy="88.7" r="3.15" fill="none" stroke="#000" stroke-width="1.15"/>
<circle cx="113.3" cy="88.7" r="2.4" fill="#ff0000" fill-opacity="0.8"/>
<circle cx="120.8" cy="108.6" r="3.15" fill="none" stroke="#000" stroke-width="1.15"/>
<circle cx="120.8" cy="108.6" r="2.4" fill="#0000ff" fill-opacity="0.8"/>
<circle cx="130.1" cy="120.6" r="3.15" fill="none" stroke="#000" stroke-width="1.15"/>
<circle cx="130.1" cy="120.6" r="2.4" fill="#0000ff" fill-opacity="0.8"/>
<circle cx="133.1" cy="121" r="1.05" fill="#ff0000" fill-opacity="0.8"/>
<circle cx="169.4" cy="118.4" r="3.15" fill="none" stroke="#000" stroke-width="1.15"/>
<circle cx="169.4" cy="118.4" r="2.4" fill="#ff0000" fill-opacity="0.8"/>
<circle cx="157.4" cy="131.1" r="3.15" fill="none" stroke="#000" stroke-width="1.15"/>
<circle cx="157.4" cy="131.1" r="2.4" fill="#0000ff" fill-opacity="0.8"/>
<circle cx="240.6" cy="129.5" r="3.15" fill="none" stroke="#000" stroke-width="1.15"/>
<circle cx="240.6" cy="129.5" r="2.4" fill="#0000ff" fill-opacity="0.8"/>
<circle cx="293.1" cy="121.2" r="3.15" fill="none" stroke="#000" stroke-width="1.15"/>
<circle cx="293.1" cy="121.2" r="2.4" fill="#0000ff" fill-opacity="0.8"/>
<circle cx="118.5" cy="144.8" r="3.15" fill="none" stroke="#000" stroke-width="1.15"/>
<circle cx="118.5" cy="144.6" r="1.05" fill="#ff0000" fill-opacity="0.8"/>
<circle cx="119" cy="147.9" r="1.05" fill="#ff0000" fill-opacity="0.8"/>
<circle cx="147.4" cy="161.6" r="3.15" fill="none" stroke="#000" stroke-width="1.15"/>
<circle cx="147.4" cy="161.5" r="1.05" fill="#ff0000" fill-opacity="0.8"/>
<rect x="169.9" y="71.2" width="7.2" height="7.2" fill="#000"/>
<circle cx="173.5" cy="74.8" r="2.5" fill="#0000ff" fill-opacity="0.8"/>
<rect x="222.3" y="98.5" width="7.2" height="7.2" fill="#000"/>
<circle cx="225.9" cy="102.1" r="2.5" fill="#ff0000" fill-opacity="0.8"/>
<rect x="250.70000000000002" y="133.3" width="7.2" height="7.2" fill="#000"/>
<circle cx="254.3" cy="136.9" r="2.5" fill="#ff0000" fill-opacity="0.8"/>
<rect x="273.7" y="115.80000000000001" width="7.2" height="7.2" fill="#000"/>
<circle cx="277.3" cy="119.4" r="2.5" fill="#ff0000" fill-opacity="0.8"/>
<rect x="199.70000000000002" y="143.9" width="7.2" height="7.2" fill="#000"/>
<circle cx="203.3" cy="147.5" r="2.5" fill="#0000ff" fill-opacity="0.8"/>
<rect x="168.8" y="133.05" width="5.0" height="5.8" fill="#fff" stroke="#000" stroke-width="1.1"/>
<rect x="164.75" y="133.05" width="5.2" height="5.8" fill="#fff" stroke="#000" stroke-width="1.1"/>
<circle cx="167.3" cy="136.0" r="1.05" fill="#ff0000" fill-opacity="0.8"/>
<circle cx="171.7" cy="136.0" r="1.05" fill="#ff0000" fill-opacity="0.8"/>
<rect x="174.5" y="134.05" width="5.9" height="5.8" fill="#fff" stroke="#000" stroke-width="1.1"/>
<circle cx="177.45" cy="136.95" r="2.3" fill="#0000ff" fill-opacity="0.8"/>
</g>
<rect x="42.9" y="8.0" width="275.5" height="41.8" rx="1.6" ry="1.6" fill="#fff" fill-opacity="0.8" stroke="#cdcdcd" stroke-width="0.95"/>
<line x1="46.6" y1="15.0" x2="64.7" y2="15.0" stroke="#c0e3c0" stroke-width="1.2" stroke-dasharray="3.6 1.55"/>
<line x1="46.6" y1="28.3" x2="64.7" y2="28.3" stroke="#80c680" stroke-width="1.2" stroke-dasharray="3.6 1.55"/>
<line x1="46.6" y1="41.6" x2="64.7" y2="41.6" stroke="#2ca02c" stroke-width="1.2" stroke-dasharray="3.6 1.55"/>
<rect x="167.6" y="13.0" width="5.8" height="5.8" fill="#fff" stroke="#000" stroke-width="1.0"/>
<circle cx="170.5" cy="29.4" r="2.95" fill="#fff" stroke="#000" stroke-width="1.05"/>
<rect x="167.0" y="38.4" width="7.0" height="7.0" fill="#000"/>
<circle cx="248.5" cy="15.9" r="2.3" fill="#ff0000" fill-opacity="0.74"/>
<circle cx="248.5" cy="29.1" r="2.3" fill="#0000ff" fill-opacity="0.74"/>
<g font-family='"Liberation Sans", sans-serif'>
<text x="71.52" y="18.80" font-size="9.8" fill="#000" stroke="#000" stroke-width="0.22" textLength="72.23" lengthAdjust="spacingAndGlyphs">99% Detectable</text>
<text x="71.48" y="32.10" font-size="9.8" fill="#000" stroke="#000" stroke-width="0.22" textLength="72.27" lengthAdjust="spacingAndGlyphs">68% Detectable</text>
<text x="71.22" y="45.40" font-size="9.8" fill="#000" stroke="#000" stroke-width="0.22" textLength="66.74" lengthAdjust="spacingAndGlyphs">1% Detectable</text>
<text x="186.19" y="18.80" font-size="9.8" fill="#000" stroke="#000" stroke-width="0.22" textLength="35.67" lengthAdjust="spacingAndGlyphs">Periodic</text>
<text x="186.49" y="32.10" font-size="9.8" fill="#000" stroke="#000" stroke-width="0.22" textLength="32.15" lengthAdjust="spacingAndGlyphs">Curved</text>
<text x="186.17" y="45.40" font-size="9.8" fill="#000" stroke="#000" stroke-width="0.22" textLength="27.99" lengthAdjust="spacingAndGlyphs">Linear</text>
<text x="263.86" y="18.80" font-size="9.8" fill="#000" stroke="#000" stroke-width="0.22" textLength="47.20" lengthAdjust="spacingAndGlyphs">Increasing</text>
<text x="263.98" y="32.10" font-size="9.8" fill="#000" stroke="#000" stroke-width="0.22" textLength="50.77" lengthAdjust="spacingAndGlyphs">Decreasing</text>
</g>
<path d="M42.3,229.85 L42.3,3.5 L323.0,3.5" fill="none" stroke="#4a4a4a" stroke-width="1.2"/>
<path d="M42.3,229.85 L323.0,229.85" fill="none" stroke="#4a4a4a" stroke-width="1.2"/>
<path d="M41.00,204.71H42.3M41.00,189.92H42.3M41.00,179.43H42.3M41.00,171.29H42.3M41.00,164.64H42.3M41.00,159.01H42.3M41.00,154.14H42.3M41.00,149.84H42.3M40.00,146.00H42.3M41.00,120.71H42.3M41.00,105.92H42.3M41.00,95.43H42.3M41.00,87.29H42.3M41.00,80.64H42.3M41.00,75.01H42.3M41.00,70.14H42.3M41.00,65.84H42.3M40.00,62.00H42.3M41.00,36.71H42.3M41.00,21.92H42.3M41.00,11.43H42.3M59.83,229.85V231.15M84.56,229.85V231.15M102.11,229.85V231.15M115.72,229.85V231.15M126.84,229.85V231.15M136.24,229.85V231.15M144.39,229.85V231.15M151.57,229.85V231.15M158.00,229.85V232.15M200.28,229.85V231.15M225.01,229.85V231.15M242.56,229.85V231.15M256.17,229.85V231.15M267.29,229.85V231.15M276.69,229.85V231.15M284.84,229.85V231.15M292.02,229.85V231.15M298.45,229.85V232.15" stroke="#000" stroke-width="0.7" fill="none"/>
<path d="M42.30,229.85V63.86H49.99V229.85ZM49.99,229.85V28.65H62.09V229.85ZM62.09,229.85V63.86H74.18V229.85ZM74.18,229.85V89.01H86.28V229.85ZM86.28,229.85V73.92H98.37V229.85ZM98.37,229.85V99.07H110.46V229.85ZM110.46,229.85V124.22H122.56V229.85ZM122.56,229.85V139.31H134.65V229.85ZM134.65,229.85V194.64H146.75V229.85ZM146.75,229.85V184.58H158.84V229.85ZM158.84,229.85V174.52H170.93V229.85ZM170.93,229.85V194.64H183.03V229.85ZM183.03,229.85V199.67H195.12V229.85ZM195.12,229.85V209.73H207.22V229.85ZM207.22,229.85V199.67H219.31V229.85ZM219.31,229.85V219.79H231.40V229.85ZM231.40,229.85V219.79H243.50V229.85ZM243.50,229.85V219.79H255.59V229.85ZM255.59,229.85V214.76H267.69V229.85ZM267.69,229.85V224.82H279.78V229.85ZM279.78,229.85V219.79H291.87V229.85ZM291.87,229.85V224.82H303.97V229.85ZM303.97,229.85V224.82H316.06V229.85Z" fill="#1f77b4" fill-opacity="0.2"/>
<line x1="323.0" y1="3.1" x2="323.0" y2="230.25" stroke="#999" stroke-width="1.6"/>
<path d="M323.0,229.85h2.3M323.0,204.70h2.3M323.0,179.55h2.3M323.0,154.40h2.3M323.0,129.25h2.3M323.0,104.10h2.3M323.0,78.95h2.3M323.0,53.80h2.3M323.0,28.65h2.3M323.0,3.50h2.3" stroke="#555" stroke-width="0.7"/>
<g font-family='"Liberation Sans", sans-serif' fill="#000">
<text x="327.29" y="234.00" font-size="10.5" fill="#000" stroke="#000" stroke-width="0.28">0</text>
<text x="327.28" y="208.85" font-size="10.5" fill="#000" stroke="#000" stroke-width="0.28">5</text>
<text x="326.90" y="183.70" font-size="10.5" fill="#000" stroke="#000" stroke-width="0.28">10</text>
<text x="326.90" y="158.55" font-size="10.5" fill="#000" stroke="#000" stroke-width="0.28">15</text>
<text x="327.17" y="133.40" font-size="10.5" fill="#000" stroke="#000" stroke-width="0.28">20</text>
<text x="327.17" y="108.25" font-size="10.5" fill="#000" stroke="#000" stroke-width="0.28">25</text>
<text x="327.30" y="83.10" font-size="10.5" fill="#000" stroke="#000" stroke-width="0.28">30</text>
<text x="327.30" y="57.95" font-size="10.5" fill="#000" stroke="#000" stroke-width="0.28">35</text>
<text x="327.46" y="32.80" font-size="10.5" fill="#000" stroke="#000" stroke-width="0.28">40</text>
<text x="327.46" y="7.65" font-size="10.5" fill="#000" stroke="#000" stroke-width="0.28">45</text>
<text x="15.14" y="65.65" font-size="10.5" fill="#000" stroke="#000" stroke-width="0.28" textLength="12.49" lengthAdjust="spacingAndGlyphs">10</text>
<rect x="28.1" y="60.05" width="3.8" height="0.85" fill="#000"/>
<text x="32.39" y="61.90" font-size="7.0" fill="#000" stroke="#000" stroke-width="0.18" textLength="3.74" lengthAdjust="spacingAndGlyphs">1</text>
<text x="15.14" y="149.65" font-size="10.5" fill="#000" stroke="#000" stroke-width="0.28" textLength="12.49" lengthAdjust="spacingAndGlyphs">10</text>
<rect x="28.1" y="144.05" width="3.8" height="0.85" fill="#000"/>
<text x="32.52" y="145.90" font-size="7.0" fill="#000" stroke="#000" stroke-width="0.18" textLength="4.15" lengthAdjust="spacingAndGlyphs">2</text>
<text x="15.14" y="233.50" font-size="10.5" fill="#000" stroke="#000" stroke-width="0.28" textLength="12.49" lengthAdjust="spacingAndGlyphs">10</text>
<rect x="28.1" y="227.90" width="3.8" height="0.85" fill="#000"/>
<text x="32.63" y="229.75" font-size="7.0" fill="#000" stroke="#000" stroke-width="0.18" textLength="3.99" lengthAdjust="spacingAndGlyphs">3</text>
<text x="149.14" y="242.20" font-size="10.5" fill="#000" stroke="#000" stroke-width="0.28" textLength="12.61" lengthAdjust="spacingAndGlyphs">10</text>
<text x="161.90" y="238.50" font-size="7.0" fill="#000" stroke="#000" stroke-width="0.18" textLength="4.30" lengthAdjust="spacingAndGlyphs">0</text>
<text x="289.59" y="242.20" font-size="10.5" fill="#000" stroke="#000" stroke-width="0.28" textLength="12.61" lengthAdjust="spacingAndGlyphs">10</text>
<text x="302.17" y="238.50" font-size="7.0" fill="#000" stroke="#000" stroke-width="0.18" textLength="3.48" lengthAdjust="spacingAndGlyphs">1</text>
</g>
<g font-family='"Liberation Sans", sans-serif' fill="#000">
<text x="91.07" y="256.00" font-size="10.85" fill="#000" stroke="#000" stroke-width="0.12" textLength="119.00" lengthAdjust="spacingAndGlyphs">Mean peak brightness (</text>
<text x="210.51" y="256.00" font-size="10.85" font-style="italic" fill="#000" stroke="#000" stroke-width="0.12" textLength="5.85" lengthAdjust="spacingAndGlyphs">F</text>
<rect x="213.3" y="246.7" width="2.6" height="0.8" fill="#000"/>
<text x="217.33" y="256.00" font-size="10.85" fill="#000" stroke="#000" stroke-width="0.12" textLength="56.79" lengthAdjust="spacingAndGlyphs">) [Jy/beam]</text>
<g transform="translate(9.7,154.7) rotate(-90)"><text x="-1.02" y="0.00" font-size="10.85" fill="#000" stroke="#000" stroke-width="0.12" textLength="35.22" lengthAdjust="spacingAndGlyphs">|Slope/</text><text x="34.34" y="0.00" font-size="10.85" font-style="italic" fill="#000" stroke="#000" stroke-width="0.12" textLength="5.07" lengthAdjust="spacingAndGlyphs">F</text><rect x="37.2" y="-8.9" width="1.9" height="0.8" fill="#333"/><text x="40.92" y="0.00" font-size="10.85" fill="#000" stroke="#000" stroke-width="0.12" textLength="19.98" lengthAdjust="spacingAndGlyphs">| [yr</text><rect x="62.5" y="-6.5" width="4.6" height="0.85" fill="#000"/><text x="68.16" y="-4.60" font-size="7.2" fill="#000" stroke="#000" stroke-width="0.12" textLength="3.22" lengthAdjust="spacingAndGlyphs">1</text><text x="72.79" y="0.00" font-size="10.85" fill="#000" stroke="#000" stroke-width="0.12" textLength="3.77" lengthAdjust="spacingAndGlyphs">]</text></g>
<g transform="translate(349.3,148.2) rotate(-90)"><text x="-0.05" y="0.00" font-size="10.85" fill="#000" stroke="#000" stroke-width="0.12" textLength="64.08" lengthAdjust="spacingAndGlyphs"># of sources</text></g>
</g></svg>
</body></html>
